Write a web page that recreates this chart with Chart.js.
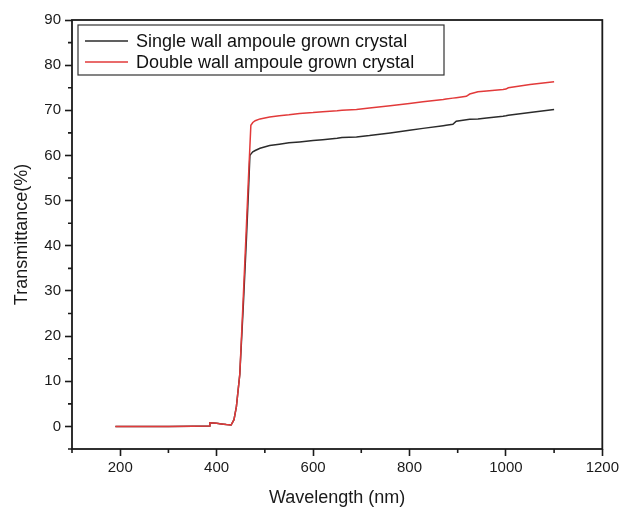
<!DOCTYPE html>
<html>
<head>
<meta charset="utf-8">
<script src="https://cdn.jsdelivr.net/npm/chart.js@4"></script>
<style>
  html, body { margin: 0; padding: 0; background: #fff; }
  #wrap { width: 622px; height: 509px; }
</style>
</head>
<body>
<div id="wrap"><canvas id="transmittance"></canvas></div>
<script>
// wavelength (nm) and transmittance (%)
const wavelength = [190, 250, 300, 350, 385, 386, 400, 410, 420, 430, 436, 441, 448, 455, 462, 466, 469, 471, 475, 480, 490, 510, 530, 550, 572, 600, 620, 650, 660, 690, 717, 760, 800, 828, 870, 876, 890, 897, 918, 925, 942, 960, 994, 1000, 1005, 1050, 1100];
const singleWall = [0, 0, 0, 0.05, 0.1, 0.8, 0.7, 0.55, 0.4, 0.3, 1.5, 4.4, 11.5, 26, 42, 52, 60, 60.3, 60.8, 61.1, 61.6, 62.2, 62.5, 62.8, 63.0, 63.3, 63.5, 63.8, 64.0, 64.1, 64.4, 65.0, 65.6, 66.0, 66.6, 66.7, 66.9, 67.6, 67.9, 68.0, 68.1, 68.3, 68.7, 68.8, 68.9, 69.5, 70.2];
const doubleWall = [0, 0, 0, 0.05, 0.1, 0.8, 0.7, 0.55, 0.4, 0.3, 1.5, 4.4, 11.5, 28, 45, 55, 62, 66.7, 67.3, 67.7, 68.1, 68.5, 68.8, 69.0, 69.3, 69.5, 69.7, 69.9, 70.0, 70.2, 70.5, 71.0, 71.5, 71.9, 72.4, 72.5, 72.7, 72.8, 73.1, 73.6, 74.1, 74.3, 74.6, 74.7, 75.0, 75.7, 76.3];
const seriesLabels = ["Single wall ampoule grown crystal", "Double wall ampoule grown crystal"];
const xTickLabels = [200, 400, 600, 800, 1000, 1200];
const yTickLabels = [0, 10, 20, 30, 40, 50, 60, 70, 80, 90];

const FONT = "'Liberation Sans', Arial, Helvetica, sans-serif";
const INK = "#1a1a1a";
const RED = "#e23a3a";
const BLACK = "#2b2b2b";

function toPoints(ys) {
  return wavelength.map((w, i) => ({ x: w, y: ys[i] }));
}

// frame, minor ticks and boxed legend (Origin style)
const originStyle = {
  id: "originStyle",
  afterDraw(chart) {
    const ctx = chart.ctx;
    const a = chart.chartArea;
    const xs = chart.scales.x;
    const ys = chart.scales.y;
    ctx.save();
    ctx.strokeStyle = INK;
    ctx.lineWidth = 1.6;
    // minor ticks
    ctx.beginPath();
    xs.ticks.forEach((t) => {
      if (!xTickLabels.includes(t.value)) {
        const px = xs.getPixelForValue(t.value);
        ctx.moveTo(px, a.bottom);
        ctx.lineTo(px, a.bottom + 4);
      }
    });
    ys.ticks.forEach((t) => {
      if (!yTickLabels.includes(t.value)) {
        const py = ys.getPixelForValue(t.value);
        ctx.moveTo(a.left, py);
        ctx.lineTo(a.left - 4, py);
      }
    });
    ctx.stroke();
    // frame
    ctx.lineWidth = 1.8;
    ctx.strokeRect(a.left, a.top, a.right - a.left, a.bottom - a.top);

    // legend
    const lx = 78, ly = 25, lw = 366, lh = 50;
    ctx.lineWidth = 1.2;
    ctx.strokeStyle = "#333";
    ctx.strokeRect(lx, ly, lw, lh);
    ctx.font = "18px " + FONT;
    ctx.textBaseline = "middle";
    ctx.fillStyle = "#111";
    const order = [1, 0];
    order.forEach((di, row) => {
      const ds = chart.data.datasets[di];
      const cy = ly + 16 + row * 21;
      ctx.strokeStyle = ds.borderColor;
      ctx.lineWidth = 1.6;
      ctx.beginPath();
      ctx.moveTo(lx + 7, cy);
      ctx.lineTo(lx + 50, cy);
      ctx.stroke();
      ctx.fillText(ds.label, lx + 58, cy + 1);
    });
    ctx.restore();
  },
};

new Chart(document.getElementById("transmittance"), {
  type: "line",
  data: {
    datasets: [
      {
        label: seriesLabels[1],
        data: toPoints(doubleWall),
        borderColor: RED,
        borderWidth: 1.5,
        pointRadius: 0,
        tension: 0,
        fill: false,
      },
      {
        label: seriesLabels[0],
        data: toPoints(singleWall),
        borderColor: BLACK,
        borderWidth: 1.5,
        pointRadius: 0,
        tension: 0,
        fill: false,
      },
    ],
  },
  options: {
    responsive: true,
    maintainAspectRatio: false,
    animation: false,
    layout: { padding: { left: 0, top: 20, right: 19, bottom: 0 } },
    plugins: {
      legend: { display: false },
      tooltip: { enabled: false },
    },
    scales: {
      x: {
        type: "linear",
        min: 100,
        max: 1200,
        afterFit: (s) => { s.height = 60; },
        border: { display: false },
        grid: {
          drawOnChartArea: false,
          tickLength: 7,
          tickColor: INK,
          tickWidth: (c) => (xTickLabels.includes(c.tick.value) ? 1.6 : 0),
        },
        ticks: {
          stepSize: 100,
          autoSkip: false,
          maxRotation: 0,
          padding: 3,
          color: INK,
          font: { family: FONT, size: 15 },
          callback: (v) => (xTickLabels.includes(v) ? String(v) : ""),
        },
        title: {
          display: true,
          text: "Wavelength (nm)",
          color: INK,
          font: { family: FONT, size: 18 },
          padding: { top: 0, bottom: 0 },
        },
      },
      y: {
        type: "linear",
        min: -5,
        max: 90,
        afterFit: (s) => { s.width = 72; },
        border: { display: false },
        grid: {
          drawOnChartArea: false,
          tickLength: 7,
          tickColor: INK,
          tickWidth: (c) => (yTickLabels.includes(c.tick.value) ? 1.6 : 0),
        },
        ticks: {
          stepSize: 5,
          autoSkip: false,
          padding: 4,
          color: INK,
          font: { family: FONT, size: 15 },
          callback: (v) => (yTickLabels.includes(v) ? String(v) : ""),
        },
        title: {
          display: true,
          text: "Transmittance(%)",
          color: INK,
          font: { family: FONT, size: 18 },
          padding: { top: 11, bottom: 0 },
        },
      },
    },
  },
  plugins: [originStyle],
});
</script>
</body>
</html>
